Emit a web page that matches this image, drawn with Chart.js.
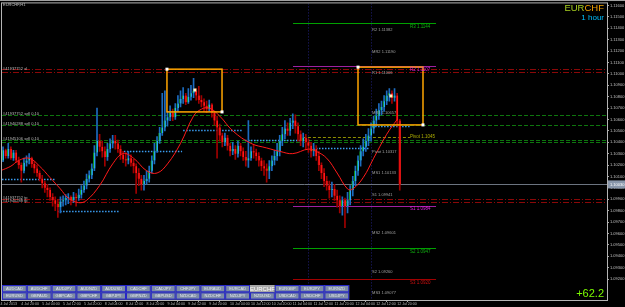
<!DOCTYPE html>
<html>
<head>
<meta charset="utf-8">
<script src="https://cdn.jsdelivr.net/npm/chart.js@4.4.0/dist/chart.umd.min.js"></script>
<style>
html,body{margin:0;padding:0;background:#000;overflow:hidden}
canvas{display:block}
</style>
</head>
<body>
<canvas id="chart" width="625" height="307" style="width:625px;height:307px"></canvas>
<script>
//CHART TEXTS
const symbol='EURCHF';
const periodName='1 hour';
const profitText='+62.2';
const windowTitle='EURCHF,H1';

//CANDLES (EURCHF H1, 4 Jul 12:00 -> 12 Jul 21:00)
const firstOpen=1.1028;
const closes=[
 1.1024,1.1033,1.1028,1.1034,1.1026,1.1031,1.1024,1.1020,1.1015,1.1022,
 1.1024,1.1026,1.1021,1.1017,1.1013,1.1008,1.1004,1.1000,1.0998,1.0992,
 1.0989,1.0986,1.0983,1.0988,1.0989,1.0991,1.0992,1.0989,1.0992,1.0991,
 1.0994,1.0998,1.1002,1.1008,1.1011,1.1017,1.1031,1.1041,1.1036,1.1032,
 1.1027,1.1034,1.1039,1.1041,1.1039,1.1034,1.1029,1.1025,1.1024,1.1026,
 1.1022,1.1019,1.1013,1.1008,1.1003,1.1006,1.1008,1.1015,1.1024,1.1032,
 1.1041,1.1048,1.1053,1.1059,1.1062,1.1066,1.1062,1.1070,1.1074,1.1078,
 1.1081,1.1075,1.1080,1.1083,1.1085,1.1081,1.1077,1.1075,1.1072,1.1069,
 1.1073,1.1066,1.1059,1.1053,1.1046,1.1040,1.1044,1.1037,1.1032,1.1034,
 1.1030,1.1037,1.1032,1.1027,1.1024,1.1026,1.1032,1.1031,1.1028,1.1024,
 1.1019,1.1017,1.1015,1.1019,1.1024,1.1028,1.1032,1.1041,1.1047,1.1052,
 1.1050,1.1057,1.1059,1.1054,1.1047,1.1041,1.1044,1.1040,1.1037,1.1032,
 1.1034,1.1028,1.1020,1.1013,1.1006,1.1002,1.0998,1.0999,1.0993,1.0989,
 1.0984,1.0989,1.0984,1.0989,1.0998,1.1006,1.1015,1.1024,1.1032,1.1036,
 1.1041,1.1046,1.1052,1.1059,1.1063,1.1068,1.1071,1.1076,1.1081,1.1083,
 1.1079,1.1081,1.1059,1.1003];
const highs=[
 1.1033,1.1036,1.1034,1.1039,1.1036,1.1033,1.1033,1.1027,1.1022,1.1026,
 1.1028,1.1030,1.1027,1.1023,1.1020,1.1015,1.1011,1.1006,1.1003,1.1000,
 1.0995,1.0992,1.0990,1.0992,1.0993,1.0994,1.0995,1.0993,1.0996,1.0995,
 1.0999,1.1002,1.1006,1.1012,1.1015,1.1021,1.1037,1.1070,1.1047,1.1041,
 1.1036,1.1039,1.1043,1.1046,1.1046,1.1042,1.1037,1.1032,1.1031,1.1032,
 1.1029,1.1025,1.1021,1.1017,1.1011,1.1011,1.1015,1.1019,1.1028,1.1039,
 1.1045,1.1053,1.1083,1.1085,1.1067,1.1072,1.1069,1.1074,1.1081,1.1085,
 1.1088,1.1083,1.1087,1.1090,1.1096,1.1087,1.1089,1.1081,1.1078,1.1076,
 1.1077,1.1074,1.1067,1.1063,1.1056,1.1048,1.1048,1.1046,1.1039,1.1040,
 1.1037,1.1041,1.1039,1.1035,1.1032,1.1059,1.1036,1.1038,1.1034,1.1031,
 1.1026,1.1024,1.1021,1.1024,1.1028,1.1033,1.1039,1.1046,1.1053,1.1059,
 1.1057,1.1061,1.1065,1.1064,1.1057,1.1050,1.1048,1.1047,1.1043,1.1040,
 1.1039,1.1037,1.1032,1.1022,1.1017,1.1010,1.1006,1.1005,1.1003,1.0998,
 1.0993,1.0992,1.0991,1.0996,1.1002,1.1010,1.1019,1.1028,1.1037,1.1043,
 1.1047,1.1052,1.1057,1.1063,1.1069,1.1074,1.1076,1.1081,1.1085,1.1087,
 1.1085,1.1087,1.1083,1.1060];
const lows=[
 1.1021,1.1023,1.1026,1.1026,1.1025,1.1024,1.1022,1.1017,1.1005,1.1013,
 1.1019,1.1021,1.1018,1.1013,1.1010,1.1006,1.1000,1.0996,1.0992,1.0989,
 1.0984,1.0980,1.0974,1.0978,1.0984,1.0985,1.0986,1.0985,1.0987,1.0984,
 1.0989,1.0991,1.0996,1.0999,1.1005,1.1008,1.1015,1.1028,1.1032,1.1027,
 1.1019,1.1024,1.1031,1.1035,1.1034,1.1031,1.1025,1.1022,1.1019,1.1021,
 1.1019,1.1013,1.0995,1.1002,1.0998,1.0998,1.1003,1.1005,1.1013,1.1021,
 1.1031,1.1039,1.1046,1.1050,1.1054,1.1059,1.1059,1.1060,1.1067,1.1071,
 1.1074,1.1073,1.1074,1.1077,1.1079,1.1077,1.1074,1.1071,1.1067,1.1066,
 1.1067,1.1062,1.1055,1.1026,1.1041,1.1036,1.1037,1.1033,1.1028,1.1029,
 1.1025,1.1027,1.1028,1.1024,1.1019,1.1018,1.1024,1.1026,1.1024,1.1019,
 1.1015,1.1011,1.1005,1.1008,1.1015,1.1020,1.1024,1.1028,1.1037,1.1043,
 1.1046,1.1046,1.1052,1.1048,1.1041,1.1037,1.1036,1.1034,1.1031,1.1027,
 1.1028,1.1024,1.1015,1.1008,1.1001,1.0998,1.0991,1.0992,1.0989,1.0983,
 1.0978,1.0976,1.0965,1.0978,1.0985,1.0993,1.1002,1.1011,1.1019,1.1028,
 1.1032,1.1037,1.1041,1.1048,1.1054,1.1060,1.1064,1.1067,1.1073,1.1076,
 1.1074,1.1076,1.1054,1.0998];

//MOVING AVERAGE (read at bar index)
const maBars=[0,4,7,11,15,19,23,26,30,33,38,43,47,51,56,60,64,69,74,77,80,84,89,96,102,107,112,118,121,125,129,133,135,139,143,148,152];
const maValues=[1.1015,1.1019,1.1024,1.1026,1.1019,1.1009,1.0999,1.0991,1.0987,1.0989,1.1002,1.1021,1.1030,1.1026,1.1015,1.1013,1.1021,1.1039,1.1063,1.1069,1.1070,1.1063,1.1050,1.1039,1.1035,1.1032,1.1030,1.1034,1.1032,1.1026,1.1013,1.0999,1.0999,1.1009,1.1026,1.1047,1.1060];

//AXIS LABELS
const timeLabels=['4 Jul 2013','4 Jul 20:00','5 Jul 04:00','5 Jul 12:00','5 Jul 20:00','8 Jul 04:00','8 Jul 12:00','8 Jul 20:00','9 Jul 04:00','9 Jul 12:00','9 Jul 20:00','10 Jul 04:00','10 Jul 12:00','10 Jul 20:00','11 Jul 04:00','11 Jul 12:00','11 Jul 20:00','12 Jul 04:00','12 Jul 12:00','12 Jul 20:00'];
const barsPerTimeLabel=8;
const priceTicks=[1.0920,1.0930,1.0940,1.0950,1.0960,1.0970,1.0980,1.0990,1.1000,1.1010,1.1020,1.1030,1.1040,1.1050,1.1060,1.1070,1.1080,1.1090,1.1100,1.1110,1.1120,1.1130,1.1140,1.1150,1.1160];

//ORDERS
const orderTickets=['#41937752','#41940288','#41945106','#41945310'];
const stopLevels=[1.11041,1.11015];
const entryLevels=[1.10640,1.10552,1.10422,1.10404];
const takeProfitLevels=[1.09906,1.09880];

//PIVOTS
const pivotNames=['R3','R2','S1','S2','S3'];
const pivotPrices=[1.11443,1.11068,1.09845,1.09470,1.09199];
const centralPivot=1.10448;
const midPivotNames=['R2','MR2','R1','MR1','Pivot','MS1','S1','MS2','S2','MS3'];
const midPivotPrices=[1.11382,1.11190,1.11006,1.10657,1.10317,1.10133,1.09941,1.09601,1.09260,1.09077];

//TRAILING STOP DOTS
const stopDotsFrom=[0.6,21.7,47.3,70.0,93.7,118.6,142.4];
const stopDotsTo=[20.9,45.4,69.6,92.9,118.6,141.6,156.9];
const stopDotsPrice=[1.1008,1.0980,1.1032,1.1051,1.1042,1.1035,1.1054];

//RECTANGLES AND MARKERS
const boxFrom=[63.8,137.0], boxTo=[84.9,161.9];
const boxHigh=[1.11041,1.11059], boxLow=[1.10666,1.10552];
const markerBars=[74.5,149.6], markerPrices=[1.10858,1.10806];
const separatorBars=[117.8,142.0];

//SYMBOL BUTTONS
const buttonRows=[
 ['AUDCAD','AUDCHF','AUDJPY','AUDNZD','AUDUSD','CADCHF','CADJPY','CHFJPY','EURAUD','EURCAD','EURCHF','EURGBP','EURJPY','EURNZD'],
 ['EURUSD','GBPAUD','GBPCAD','GBPCHF','GBPJPY','GBPNZD','GBPUSD','NZDCAD','NZDCHF','NZDJPY','NZDUSD','USDCAD','USDCHF','USDJPY']];

//DERIVED
const opens=closes.map((c,i)=>i?closes[i-1]:firstOpen);
const bull=closes.map((c,i)=>c>=opens[i]);
const lastPrice=closes[closes.length-1];

const FONT='"Liberation Sans", "DejaVu Sans", sans-serif';
const X=(c,v)=>c.scales.x.getPixelForValue(v);
const Y=(c,v)=>c.scales.y.getPixelForValue(v);

function hline(ctx,x1,x2,y,color,dash,w){
  ctx.save();
  ctx.strokeStyle=color;ctx.lineWidth=w||1;ctx.setLineDash(dash||[]);
  const yy=Math.round(y)+0.5;
  ctx.beginPath();ctx.moveTo(x1,yy);ctx.lineTo(x2,yy);ctx.stroke();
  ctx.restore();
}
function txt(ctx,s,x,y,color,size,align,base){
  ctx.fillStyle=color;ctx.font=size+'px '+FONT;
  ctx.textAlign=align||'left';ctx.textBaseline=base||'middle';
  ctx.fillText(s,x,y);
}

const overlay={
  id:'overlay',
  beforeDatasetsDraw(c){
    const {ctx,chartArea:a}=c;
    ctx.save();
    ctx.beginPath();ctx.rect(a.left,a.top,a.right-a.left,a.bottom-a.top);ctx.clip();
    //separators
    separatorBars.forEach(b=>{
      const x=Math.round(X(c,b))+0.5;
      ctx.save();ctx.strokeStyle='#20207a';ctx.setLineDash([1,2]);
      ctx.beginPath();ctx.moveTo(x,a.top);ctx.lineTo(x,a.bottom);ctx.stroke();ctx.restore();
    });
    stopLevels.concat(takeProfitLevels).forEach(p=>hline(ctx,a.left,a.right,Y(c,p),'#8a0808',[6,2,1,2]));
    entryLevels.forEach(p=>hline(ctx,a.left,a.right,Y(c,p),'#0e760e',[4,2]));
    hline(ctx,a.left,a.right,Y(c,lastPrice),'#6c7480');
    const pc=['#00a000','#a020a0','#a020a0','#00a000','#a00000'];
    pivotPrices.forEach((p,i)=>hline(ctx,X(c,112.1),X(c,166.9),Y(c,p),pc[i]));
    hline(ctx,X(c,115.9),X(c,156.9),Y(c,centralPivot),'#8f8f00',[3,2]);
    stopDotsPrice.forEach((p,i)=>hline(ctx,X(c,stopDotsFrom[i]),X(c,stopDotsTo[i]),Y(c,p),'#3a9cf0',[1.5,1.5],1.5));
    ctx.restore();
  },
  afterDatasetsDraw(c){
    const {ctx,chartArea:a}=c;
    ctx.save();
    ctx.beginPath();ctx.rect(a.left,a.top,a.right-a.left,a.bottom-a.top);ctx.clip();
    //rectangles
    boxFrom.forEach((b,i)=>{
      const x1=X(c,b),x2=X(c,boxTo[i]),y1=Y(c,boxHigh[i]),y2=Y(c,boxLow[i]);
      ctx.strokeStyle='#ffa500';ctx.lineWidth=1.5;
      ctx.strokeRect(x1,y1,x2-x1,y2-y1);
      ctx.fillStyle='#ffffff';
      ctx.fillRect(x1-1.5,y1-1.5,3,3);ctx.fillRect(x2-1.5,y2-1.5,3,3);
    });
    markerBars.forEach((b,i)=>{
      ctx.fillStyle='#fff6c0';
      ctx.fillRect(X(c,b)-1.5,Y(c,markerPrices[i])-1.5,3,3);
    });
    //pivot labels
    midPivotNames.forEach((n,i)=>txt(ctx,n+' '+midPivotPrices[i].toFixed(5),X(c,142.4),Y(c,midPivotPrices[i]),'#a0a0a0',4));
    const tc=['#10b010','#e020e0','#e020e0','#10b010','#d01010'];
    pivotNames.forEach((n,i)=>txt(ctx,n+' '+pivotPrices[i].toFixed(4),X(c,156.9),Y(c,pivotPrices[i])+1,tc[i],4.5,'left','top'));
    txt(ctx,'Pivot '+centralPivot.toFixed(4),X(c,156.9),Y(c,centralPivot),'#b0b000',4.5);
    //order labels
    txt(ctx,orderTickets[0]+' sl',3,Y(c,stopLevels[0]),'#b8b8b8',4);
    entryLevels.slice(0,3).forEach((p,i)=>txt(ctx,orderTickets[i]+' sell 0.10',3,Y(c,p)-1,'#b8b8b8',4));
    takeProfitLevels.forEach((p,i)=>txt(ctx,orderTickets[i]+' tp',3,Y(c,p)-1,'#b8b8b8',4));
    ctx.restore();
  },
  afterDraw(c){
    const {ctx,chartArea:a}=c;
    ctx.save();
    ctx.fillStyle='#a0a0a0';ctx.fillRect(0,0,625,1);
    ctx.strokeStyle='#b4b4b4';ctx.lineWidth=1;
    ctx.strokeRect(a.left-0.5,a.top-0.5,a.right-a.left+1,a.bottom-a.top+1);
    txt(ctx,windowTitle,3,5,'#c0c0c0',4);
    //symbol / period
    ctx.font='9.5px '+FONT;
    const wE=ctx.measureText('EUR').width,wC=ctx.measureText('CHF').width;
    const sx=604-wE-wC;
    txt(ctx,'EUR',sx,11,'#a8d020',9.5,'left','alphabetic');
    txt(ctx,'CHF',sx+wE,11,'#f0a000',9.5,'left','alphabetic');
    txt(ctx,periodName,604,20,'#00bfff',8,'right','alphabetic');
    txt(ctx,profitText,604,297,'#7cfc00',11,'right','alphabetic');
    //buttons
    const bw=24.8,bh=7.3;
    buttonRows.forEach((row,r)=>row.forEach((name,i)=>{
      const x=2+i*bw,y=285+r*bh;
      const active=(name===symbol);
      ctx.fillStyle=active?'#a8a8a8':'#7d8ca6';
      ctx.fillRect(x,y,bw,bh);
      if(!active){ctx.strokeStyle='#2626c8';ctx.lineWidth=1;ctx.strokeRect(x+0.5,y+0.5,bw-1,bh-1);}
      if(active) txt(ctx,name,x+bw/2,y+bh/2+0.5,'#ffffff',6,'center');
      else txt(ctx,name,x+bw/2,y+bh/2,'#e4e8f0',4,'center');
    }));
    //current price box
    const py=Y(c,lastPrice);
    ctx.fillStyle='#8896aa';ctx.fillRect(608,py-4,17,8);
    txt(ctx,lastPrice.toFixed(5),610,py,'#ffffff',4);
    ctx.restore();
  }
};

//CHART
const pxPerBar=2.61;
const xMin=0.6, xMax=xMin+605/pxPerBar;
const yMin=1.09016, yMax=1.11618;
const ctx=document.getElementById('chart').getContext('2d');
const my_chart=new Chart(ctx,{
  type:'bar',
  data:{
    datasets:[
      {
        label:'wick',
        data:closes.map((cl,i)=>({x:i,y:[Math.min(lows[i],opens[i],cl),Math.max(highs[i],opens[i],cl)]})),
        backgroundColor:bull.map(b=>b?'#1c6cc0':'#a00000'),
        barThickness:1,grouped:false,order:2
      },
      {
        label:'body',
        data:closes.map((cl,i)=>({x:i,y:[opens[i],cl]})),
        backgroundColor:bull.map(b=>b?'#28a4ff':'#ff1a1a'),
        borderColor:bull.map(b=>b?'#14a014':'#c00000'),
        borderWidth:{left:1,right:0,top:0,bottom:0},
        borderSkipped:false,
        barThickness:2,minBarLength:1,grouped:false,order:1
      },
      {
        type:'line',label:'MA',
        data:maBars.map((b,i)=>({x:b,y:maValues[i]})),
        borderColor:'#ff1a1a',borderWidth:1,pointRadius:0,tension:0.4,order:0
      }
    ]
  },
  options:{
    responsive:false,
    animation:false,
    devicePixelRatio:1,
    layout:{padding:{left:2,top:2,right:0,bottom:0}},
    plugins:{legend:{display:false},tooltip:{enabled:false}},
    scales:{
      x:{
        type:'linear',min:xMin,max:xMax,offset:false,
        grid:{drawOnChartArea:false,tickLength:2,color:'#a8a8a8'},
        border:{display:false},
        afterBuildTicks:ax=>{ax.ticks=timeLabels.map((t,i)=>({value:i*barsPerTimeLabel}));},
        afterFit:ax=>{ax.height=7;},
        ticks:{autoSkip:false,maxRotation:0,minRotation:0,align:'start',padding:0,color:'#b8b8b8',
               font:{size:3.6,family:FONT},callback:(v,i)=>timeLabels[i]}
      },
      y:{
        position:'right',min:yMin,max:yMax,beginAtZero:false,
        grid:{drawOnChartArea:false,tickLength:2,color:'#a8a8a8'},
        border:{display:false},
        afterBuildTicks:ax=>{ax.ticks=priceTicks.map(v=>({value:v}));},
        afterFit:ax=>{ax.width=18;},
        ticks:{autoSkip:false,padding:1,color:'#c0c0c0',font:{size:4,family:FONT},callback:v=>v.toFixed(5)}
      }
    }
  },
  plugins:[overlay]
});
</script>
</body>
</html>
